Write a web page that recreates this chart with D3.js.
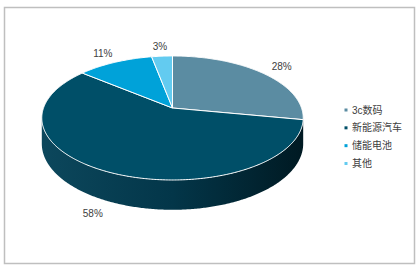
<!DOCTYPE html>
<html>
<head>
<meta charset="utf-8">
<script src="https://cdn.jsdelivr.net/npm/d3@7"></script>
<style>
  body { margin: 0; background: #fff; }
  svg { display: block; font-family: "Liberation Sans", "Noto Sans CJK SC", sans-serif; }
</style>
</head>
<body>
<svg id="chart" width="419" height="270"></svg>
<script>
// data
const categories = ["3c数码", "新能源汽车", "储能电池", "其他"];
const shares = [28, 58, 11, 3];
const sliceColors = ["#5b8ca2", "#004f68", "#00a2d9", "#63cbf0"];

const svg = d3.select("#chart");

// frame
svg.append("rect")
  .attr("x", 4.5).attr("y", 7.5)
  .attr("width", 410).attr("height", 256)
  .attr("fill", "none")
  .attr("stroke", "#bfbfbf")
  .attr("stroke-width", 1.5);

// perspective pie geometry
const cx = 172.5, cy = 108;   // apex of the slices
const A = 129, B = 60.4;      // horizontal / vertical radius
const k = 0.161;              // perspective factor
const H = 25;                 // thickness

function proj(t, r, drop) {
  const c = Math.cos(t), s = Math.sin(t);
  const den = 1 + k * r * c;
  return [cx + A * r * s / den, cy - B * r * c / den + (drop || 0) / den];
}

const color = d3.scaleOrdinal().domain(categories).range(sliceColors);

const arcs = d3.pie().sort(null).value(d => d)
  .startAngle(0).endAngle(2 * Math.PI)(shares);

const line = d3.line();

function samples(a0, a1) {
  const n = Math.max(2, Math.ceil((a1 - a0) / 0.01));
  return d3.range(n + 1).map(i => a0 + (a1 - a0) * i / n);
}

// side gradient
const defs = svg.append("defs");
const grad = defs.append("linearGradient")
  .attr("id", "side")
  .attr("gradientUnits", "userSpaceOnUse")
  .attr("x1", cx - A).attr("x2", cx + A).attr("y1", 0).attr("y2", 0);
grad.append("stop").attr("offset", 0).attr("stop-color", "#0c475c");
grad.append("stop").attr("offset", 0.5).attr("stop-color", "#033649");
grad.append("stop").attr("offset", 1).attr("stop-color", "#001a23");

// visible part of the outer wall
const t1 = Math.acos(-k), t2 = 2 * Math.PI - t1;

svg.append("g").selectAll("path")
  .data(arcs)
  .join("path")
  .attr("d", d => {
    const a0 = Math.max(d.startAngle, t1), a1 = Math.min(d.endAngle, t2);
    if (a1 <= a0) return null;
    const ts = samples(a0, a1);
    const top = ts.map(t => proj(t, 1));
    const bot = ts.slice().reverse().map(t => proj(t, 1, H));
    return line(top.concat(bot)) + "Z";
  })
  .attr("fill", (d, i) => i === 1 ? "url(#side)" : d3.color(color(categories[i])).darker(1.6));

// top face
svg.append("g").selectAll("path")
  .data(arcs)
  .join("path")
  .attr("d", d => line([[cx, cy]].concat(samples(d.startAngle, d.endAngle).map(t => proj(t, 1)))) + "Z")
  .attr("fill", (d, i) => color(categories[i]))
  .attr("stroke", "#ffffff")
  .attr("stroke-width", 1)
  .attr("stroke-linejoin", "round");

// data labels
svg.append("g").selectAll("text")
  .data(arcs)
  .join("text")
  .each(function(d) {
    const t = (d.startAngle + d.endAngle) / 2;
    const c = Math.cos(t), s = Math.sin(t);
    const p = proj(t, 1.15, c < 0 ? -c * H : 0);
    d3.select(this)
      .attr("x", p[0] + s * 9)
      .attr("y", p[1] - c * 3);
  })
  .attr("text-anchor", "middle")
  .attr("dominant-baseline", "central")
  .attr("font-size", 10)
  .attr("fill", "#404040")
  .text(d => d.data + "%");

// legend
const ly = d3.scalePoint().domain(categories).range([110, 163.5]);
const legend = svg.append("g").selectAll("g")
  .data(categories)
  .join("g")
  .attr("transform", d => `translate(346, ${ly(d)})`);
legend.append("rect")
  .attr("x", -1.5).attr("y", -1.5)
  .attr("width", 3).attr("height", 3)
  .attr("fill", d => color(d));
legend.append("text")
  .attr("x", 6)
  .attr("dominant-baseline", "central")
  .attr("font-size", 10)
  .attr("fill", "#404040")
  .text(d => d);
</script>
</body>
</html>
